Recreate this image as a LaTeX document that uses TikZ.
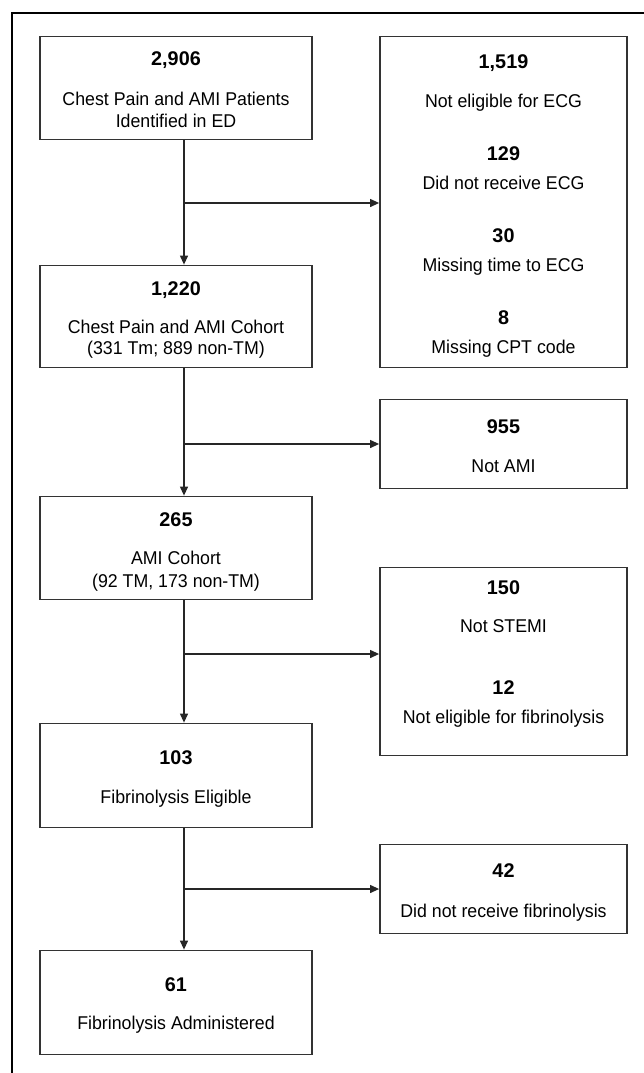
\documentclass[tikz,border=0pt]{standalone}
\usepackage{fontspec}
\setmainfont{Liberation Sans}
\newfontfamily\narrowsans{Liberation Sans}[FakeStretch=0.96]
\usetikzlibrary{arrows.meta}
\tikzset{
  box/.style={draw=black!80, line width=1.8pt, minimum width=272pt, inner sep=0pt},
  sidebox/.style={box, minimum width=247pt},
  count/.style={font=\fontsize{19.8}{24}\selectfont\bfseries, anchor=base, inner sep=0pt},
  txt/.style={font=\narrowsans\fontsize{18.5}{22}\selectfont, anchor=base, inner sep=0pt},
  flow/.style={draw=black!85, line width=1.2pt, -{Triangle[length=9pt,width=8pt]}}
}

\begin{document}
\begin{tikzpicture}[x=1pt, y=-1pt]

            \useasboundingbox (0,0) rectangle (644,1073);
            \draw[line width=2.5pt] (12,1073) -- (12,13) -- (644,13);

            \node[box, minimum height=103pt] (edbox) at (176,88) {};
            \node[count] (edn) at (176,66) {2,906};
            \node[txt] (edtxt) at (176,105) {Chest Pain and AMI Patients};
            \node[txt] (edtxtb) at (176,127) {Identified in ED};

            \node[sidebox, minimum height=331pt] (eclbox) at (503.5,202) {};
            \node[count] (ecla) at (503.5,69) {1,519};
            \node[txt] (eclatxt) at (503.5,107) {Not eligible for ECG};
            \node[count] (eclb) at (503.5,160) {129};
            \node[txt] (eclbtxt) at (503.5,189) {Did not receive ECG};
            \node[count] (eclc) at (503.5,242) {30};
            \node[txt] (eclctxt) at (503.5,271) {Missing time to ECG};
            \node[count] (ecld) at (503.5,324) {8};
            \node[txt] (ecldtxt) at (503.5,353) {Missing CPT code};

            \node[box, minimum height=102pt] (cpbox) at (176,316.5) {};
            \node[count] (cpn) at (176,295) {1,220};
            \node[txt] (cptxt) at (176,333) {Chest Pain and AMI Cohort};
            \node[txt] (cptxtb) at (176,354) {(331 Tm; 889 non-TM)};

            \node[sidebox, minimum height=89pt] (amixbox) at (503.5,444) {};
            \node[count] (amixn) at (503.5,433) {955};
            \node[txt] (amixtxt) at (503.5,472) {Not AMI};

            \node[box, minimum height=103pt] (amibox) at (176,548) {};
            \node[count] (amin) at (176,526) {265};
            \node[txt] (amitxt) at (176,564) {AMI Cohort};
            \node[txt] (amitxtb) at (176,587) {(92 TM, 173 non-TM)};

            \node[sidebox, minimum height=188pt] (stbox) at (503.5,661.5) {};
            \node[count] (sta) at (503.5,594) {150};
            \node[txt] (statxt) at (503.5,632) {Not STEMI};
            \node[count] (stb) at (503.5,694) {12};
            \node[txt] (stbtxt) at (503.5,723) {Not eligible for fibrinolysis};

            \node[box, minimum height=104pt] (elbox) at (176,775.5) {};
            \node[count] (eln) at (176,764) {103};
            \node[txt] (eltxt) at (176,803) {Fibrinolysis Eligible};

            \node[sidebox, minimum height=89pt] (norxbox) at (503.5,889) {};
            \node[count] (norxn) at (503.5,877) {42};
            \node[txt] (norxtxt) at (503.5,917) {Did not receive fibrinolysis};

            \node[box, minimum height=104pt] (admbox) at (176,1002.5) {};
            \node[count] (admn) at (176,991) {61};
            \node[txt] (admtxt) at (176,1029) {Fibrinolysis Administered};

            \coordinate (split1) at (184,203);
            \coordinate (split2) at (184,444);
            \coordinate (split3) at (184,654);
            \coordinate (split4) at (184,889);

            \draw[flow] (edbox.south -| split1) -- (cpbox.north -| split1);
            \draw[flow] (split1) -- (split1 -| eclbox.west);
            \draw[flow] (cpbox.south -| split2) -- (amibox.north -| split2);
            \draw[flow] (split2) -- (split2 -| amixbox.west);
            \draw[flow] (amibox.south -| split3) -- (elbox.north -| split3);
            \draw[flow] (split3) -- (split3 -| stbox.west);
            \draw[flow] (elbox.south -| split4) -- (admbox.north -| split4);
            \draw[flow] (split4) -- (split4 -| norxbox.west);
        \end{tikzpicture}
\end{document}
